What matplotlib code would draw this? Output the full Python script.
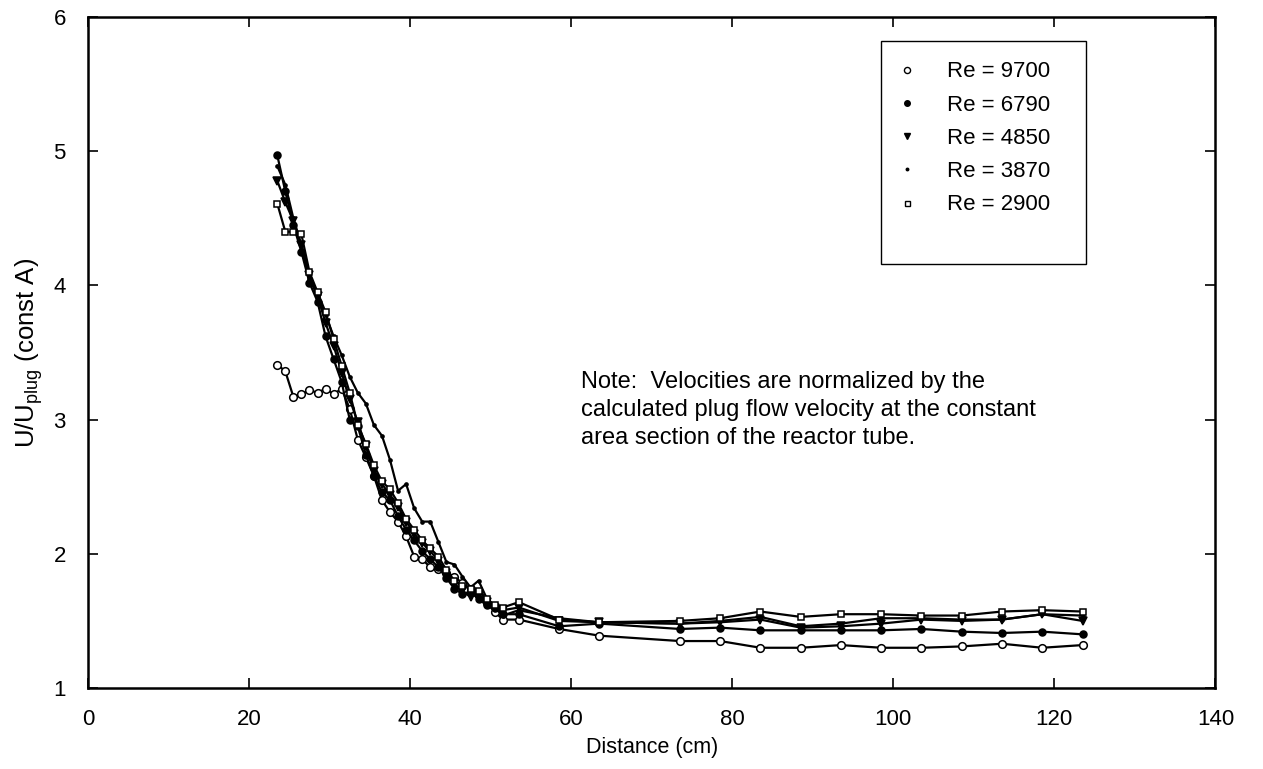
import matplotlib
matplotlib.use("Agg")
import matplotlib.pyplot as plt
from matplotlib.patches import Rectangle
from matplotlib.lines import Line2D

plt.rcParams['font.family'] = ['Liberation Sans', 'DejaVu Sans']

# ---- data ----
x_descent = [23.5, 24.5, 25.5, 26.5, 27.5, 28.5, 29.5, 30.5, 31.5, 32.5,
             33.5, 34.5, 35.5, 36.5, 37.5, 38.5, 39.5, 40.5, 41.5, 42.5,
             43.5, 44.5, 45.5, 46.5, 47.5, 48.5, 49.5, 50.5, 51.5]
x_plateau = [53.5, 58.5, 63.5, 73.5, 78.5, 83.5, 88.5, 93.5, 98.5, 103.5,
             108.5, 113.5, 118.5, 123.5]
distance = x_descent + x_plateau

labels = ["Re = 9700", "Re = 6790", "Re = 4850", "Re = 3870", "Re = 2900"]

re9700 = [3.41, 3.36, 3.17, 3.19, 3.22, 3.20, 3.23, 3.19, 3.23, 3.08,
          2.85, 2.72, 2.58, 2.40, 2.31, 2.24, 2.13, 1.98, 1.96, 1.90,
          1.89, 1.86, 1.83, 1.78, 1.74, 1.69, 1.63, 1.57, 1.51,
          1.51, 1.44, 1.39, 1.35, 1.35, 1.30, 1.30, 1.32, 1.30, 1.30,
          1.31, 1.33, 1.30, 1.32]
re6790 = [4.97, 4.70, 4.45, 4.25, 4.02, 3.88, 3.62, 3.45, 3.28, 3.00,
          2.95, 2.74, 2.58, 2.46, 2.40, 2.28, 2.18, 2.10, 2.02, 1.96,
          1.90, 1.82, 1.74, 1.70, 1.72, 1.66, 1.62, 1.60, 1.55,
          1.55, 1.46, 1.48, 1.44, 1.45, 1.43, 1.43, 1.43, 1.43, 1.44,
          1.42, 1.41, 1.42, 1.40]
re4850 = [4.78, 4.62, 4.48, 4.30, 4.08, 3.92, 3.72, 3.55, 3.35, 3.15,
          2.98, 2.80, 2.62, 2.52, 2.44, 2.35, 2.24, 2.15, 2.08, 2.02,
          1.95, 1.86, 1.78, 1.72, 1.68, 1.70, 1.64, 1.60, 1.58,
          1.60, 1.50, 1.49, 1.48, 1.49, 1.51, 1.45, 1.46, 1.48, 1.51,
          1.50, 1.51, 1.55, 1.50]
re3870 = [4.89, 4.75, 4.50, 4.30, 4.05, 3.92, 3.78, 3.62, 3.48, 3.32,
          3.20, 3.12, 2.96, 2.88, 2.70, 2.47, 2.52, 2.34, 2.24, 2.24,
          2.09, 1.94, 1.92, 1.83, 1.75, 1.80, 1.67, 1.60, 1.54,
          1.58, 1.52, 1.49, 1.48, 1.50, 1.53, 1.46, 1.48, 1.52, 1.52,
          1.51, 1.51, 1.55, 1.54]
re2900 = [4.61, 4.40, 4.40, 4.38, 4.10, 3.95, 3.80, 3.60, 3.40, 3.20,
          2.96, 2.82, 2.66, 2.54, 2.48, 2.38, 2.26, 2.18, 2.10, 2.04,
          1.98, 1.88, 1.80, 1.76, 1.74, 1.72, 1.66, 1.62, 1.60,
          1.64, 1.51, 1.49, 1.50, 1.52, 1.57, 1.53, 1.55, 1.55, 1.54,
          1.54, 1.57, 1.58, 1.57]

x_ticks = [0, 20, 40, 60, 80, 100, 120, 140]
y_ticks = [1, 2, 3, 4, 5, 6]

note = ("Note:  Velocities are normalized by the\n"
        "calculated plug flow velocity at the constant\n"
        "area section of the reactor tube.")

# ---- styles ----
series = [re9700, re6790, re4850, re3870, re2900]
markers = ['o', 'o', 'v', '.', 's']
msizes = [5.5, 5, 5.5, 4.5, 4.5]
mfaces = ['white', 'black', 'black', 'black', 'white']

fig = plt.figure(figsize=(12.63, 7.69), dpi=100)
ax = fig.add_axes([0.0697, 0.1053, 0.8926, 0.8726])

for ys, m, ms, mf in zip(series, markers, msizes, mfaces):
    ax.plot(distance, ys, color='black', lw=1.6, marker=m, ms=ms,
            mfc=mf, mec='black', mew=1.1)

ax.set_xlim(0, 140)
ax.set_ylim(1, 6)
ax.set_xticks(x_ticks)
ax.set_yticks(y_ticks)
ax.tick_params(direction='in', length=7, width=1.2, top=True, right=True,
               labelsize=16)
ax.tick_params(axis='x', pad=15)
ax.tick_params(axis='y', pad=16)
for s in ax.spines.values():
    s.set_linewidth(1.8)

ax.set_xlabel("Distance (cm)", fontsize=15.5, labelpad=5)
ax.set_ylabel(r"U/U$_{\mathregular{plug}}$ (const A)", fontsize=18.5, labelpad=6)

ax.text(0.437, 0.473, note, transform=ax.transAxes, fontsize=17,
        va='top', ha='left', linespacing=1.36)

# legend box
ax.add_patch(Rectangle((0.703, 0.632), 0.182, 0.332, transform=ax.transAxes,
                       fill=False, ec='black', lw=1.0, zorder=5))
handles = [Line2D([], [], ls='none', marker=m, ms=ms * 0.8, mfc=mf, mec='black', mew=1.0)
           for m, ms, mf in zip(markers, msizes, mfaces)]
ax.legend(handles, labels, loc='upper left', bbox_to_anchor=(0.709, 0.947),
          frameon=False, fontsize=16, handlelength=1.0, handletextpad=1.3,
          labelspacing=0.55, borderaxespad=0)

fig.savefig("out.png", dpi=100)
